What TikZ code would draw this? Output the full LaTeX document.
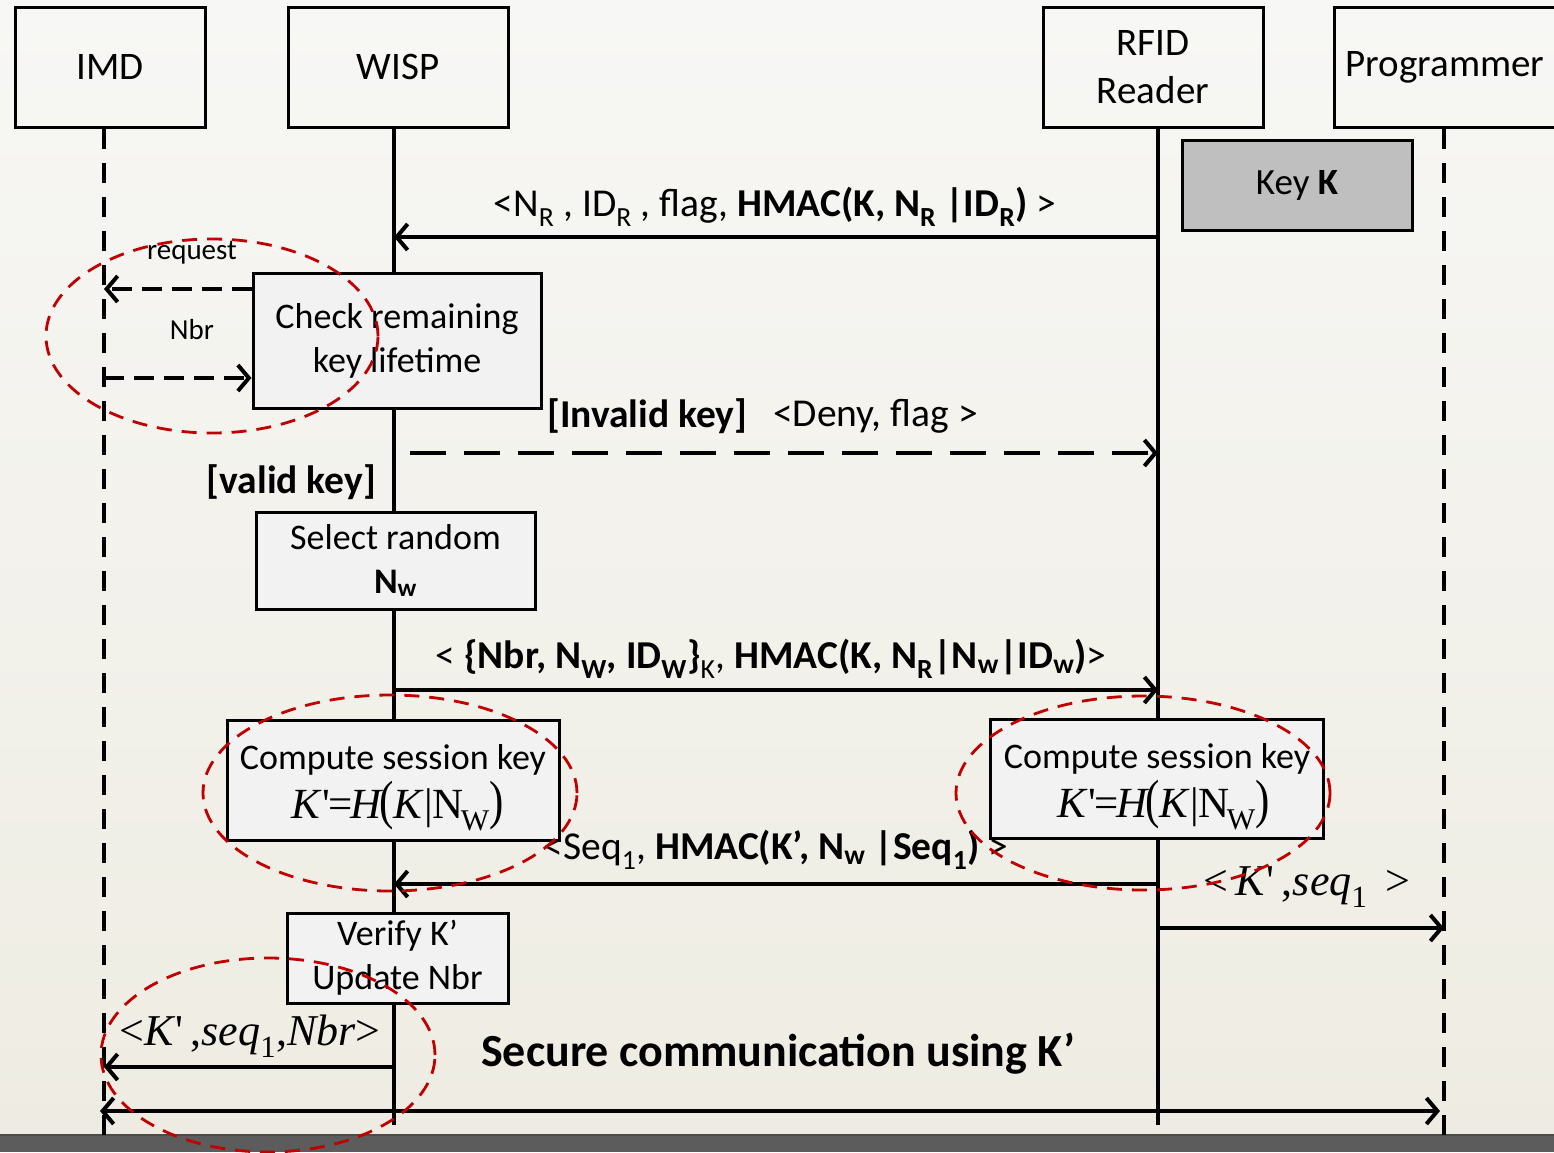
\documentclass[tikz,border=0pt]{standalone}
\usepackage{graphicx}
\usepackage{fontspec}
\setmainfont{Carlito}
\newfontfamily\tms{Liberation Serif}
\usetikzlibrary{arrows.meta}

\definecolor{papertop}{HTML}{F7F7F5}
\definecolor{paperlow}{HTML}{EEECE2}
\definecolor{boxfill}{HTML}{F2F2F2}
\definecolor{keyfill}{HTML}{BFBFBF}
\definecolor{ringred}{HTML}{C00000}
\definecolor{floorgray}{HTML}{5C5C5C}

% session key formula, set in a Times-like face
\newcommand\sessionkey{{\tms\fontsize{43}{43}\selectfont
  \textit{K}'\kern-2pt=\kern-2pt\textit{H}\kern-4pt\scalebox{1}[1.25]{(}\textit{K}|N\kern-3pt\textsubscript{W}\scalebox{1}[1.25]{)}}}

\tikzset{
  head/.style={draw=black, line width=3pt, align=center, inner sep=0pt,
    font=\fontsize{39}{48}\selectfont},
  actbox/.style={draw=black, line width=3pt, fill=boxfill, align=center, inner sep=0pt,
    font=\fontsize{36}{44}\selectfont},
  keybox/.style={actbox, fill=keyfill, font=\fontsize{37}{44}\selectfont},
  boxtext/.style={inner sep=0pt, font=\fontsize{36}{44}\selectfont},
  life/.style={line width=4pt},
  lifedash/.style={line width=4.5pt, dash pattern=on 20pt off 14pt},
  msg/.style={line width=4pt, -{Straight Barb[length=11pt,width=26pt]}},
  shortdash/.style={msg, dash pattern=on 20pt off 10pt},
  longdash/.style={msg, dash pattern=on 36pt off 18pt},
  ring/.style={draw=ringred, line width=2.8pt, dash pattern=on 15pt off 10pt},
  lbl/.style={inner sep=0pt, font=\fontsize{39.5}{46}\selectfont},
  small/.style={inner sep=0pt, font=\fontsize{29}{34}\selectfont},
  formula/.style={inner sep=0pt}
}

\begin{document}
\begin{tikzpicture}[x=1pt,y=-1pt]
\useasboundingbox (0,0) rectangle (1554,1152);
\clip (0,0) rectangle (1554,1152);

% backdrop and floor strip
\shade[top color=papertop, bottom color=paperlow] (0,0) rectangle (1554,1135);
\fill[floorgray] (0,1135) rectangle (1554,1152);
\draw[line width=1.5pt, black!70] (0,1135) -- (1554,1135);

% participants
\node[head, minimum width=190pt, minimum height=120pt] (imd) at (110,67) {IMD};
\node[head, minimum width=220pt, minimum height=120pt] (wisp) at (398,67) {WISP};
\node[head, minimum width=220pt, minimum height=120pt] (rfid) at (1153,67) {RFID\\Reader};
\node[head, minimum width=247pt, minimum height=120pt, anchor=west, align=left,
      text width=225pt, inner xsep=11pt] (prog) at (1333,67) {Programmer};

% lifeline ends
\coordinate (imdT) at (104,129);   \coordinate (imdB) at (104,1135);
\coordinate (wispT) at (394,129);  \coordinate (wispB) at (394,1125);
\coordinate (rfidT) at (1158,129); \coordinate (rfidB) at (1158,1125);
\coordinate (progT) at (1444,129); \coordinate (progB) at (1444,1135);

\draw[lifedash] (imdT) -- (imdB);
\draw[life] (wispT) -- (wispB);
\draw[life] (rfidT) -- (rfidB);
\draw[lifedash] (progT) -- (progB);

% key held by the reader
\node[keybox, minimum width=230pt, minimum height=90pt] (key) at (1297,185) {Key \textbf{K}};

% 1: reader challenge
\coordinate (m1r) at (1158,237); \coordinate (m1l) at (394,237);
\draw[msg] (m1r) -- (m1l);
\node[lbl] (m1t) at (775,207) {<N\textsubscript{R} , ID\textsubscript{R} , flag, \textbf{HMAC(K, N\textsubscript{R} |ID\textsubscript{R})} >};

% key lifetime check
\node[actbox, minimum width=288pt, minimum height=135pt] (check) at (397,340.5) {Check remaining\\key lifetime};
\coordinate (reqL) at (104,289);
\coordinate (nbrL) at (104,378);
\draw[shortdash] (check.west |- reqL) -- (reqL);
\draw[shortdash] (nbrL) -- (check.west |- nbrL);
\node[small] (reqt) at (192,253) {request};
\node[small] (nbrt) at (192,330) {Nbr};

% invalid branch
\node[lbl, anchor=west] (inv) at (547,416) {\textbf{[Invalid key]}};
\node[lbl, anchor=west] (deny) at (773,416) {<Deny, flag >};
\coordinate (dnyL) at (410,453); \coordinate (dnyR) at (1158,453);
\draw[longdash] (dnyL) -- (dnyR);

% valid branch
\node[lbl, anchor=east] (valid) at (376,482) {\textbf{[valid key]}};
\node[actbox, minimum width=279pt, minimum height=97pt] (sel) at (395.5,560.5) {Select random\\\textbf{N\textsubscript{w}}};

% 2: WISP response
\coordinate (m3l) at (394,690); \coordinate (m3r) at (1158,690);
\draw[msg] (m3l) -- (m3r);
\node[lbl] (m3t) at (771,659) {< \textbf{\{Nbr, N\textsubscript{W}, ID\textsubscript{W}\}}\textsubscript{K}, \textbf{HMAC(K, N\textsubscript{R}|N\textsubscript{w}|ID\textsubscript{w})}>};

% session key on both sides
\node[actbox, minimum width=332pt, minimum height=120pt] (ckw) at (393,780) {};
\node[boxtext] (ckwa) at (393,760) {Compute session key};
\node[formula] (ckwb) at (398,806) {\sessionkey};
\node[actbox, minimum width=333pt, minimum height=119pt] (ckr) at (1156.5,778.5) {};
\node[boxtext] (ckra) at (1157,759) {Compute session key};
\node[formula] (ckrb) at (1164,805) {\sessionkey};

% 3: reader confirmation
\coordinate (m4r) at (1158,884); \coordinate (m4l) at (394,884);
\draw[msg] (m4r) -- (m4l);
\node[lbl] (m4t) at (776,850) {<Seq\textsubscript{1}, \textbf{HMAC(K’, N\textsubscript{w} |Seq\textsubscript{1})} >};

% reader to programmer
\node[formula] (m5t) at (1307,887) {\tms\fontsize{44}{44}\selectfont <\,\textit{K}'\,,\textit{seq}\textsubscript{1}\, >};
\coordinate (m5l) at (1158,928); \coordinate (m5r) at (1444,928);
\draw[msg] (m5l) -- (m5r);

% verification on the WISP
\node[actbox, minimum width=221pt, minimum height=90pt] (ver) at (397.5,958) {Verify K’\\Update Nbr};

% WISP to IMD
\node[formula] (m6t) at (250,1036) {\tms\fontsize{44}{44}\selectfont <\textit{K}'\,,\textit{seq}\textsubscript{1},\textit{Nbr}>};
\coordinate (m6r) at (394,1067); \coordinate (m6l) at (104,1067);
\draw[msg] (m6r) -- (m6l);

% secure channel
\node[inner sep=0pt, anchor=west, font=\fontsize{46}{52}\selectfont\bfseries] (sec) at (481,1054) {Secure communication using K’};
\coordinate (scL) at (100,1111); \coordinate (scR) at (1440,1111);
\draw[msg, {Straight Barb[length=11pt,width=26pt]}-{Straight Barb[length=11pt,width=26pt]}] (scL) -- (scR);

% highlighted regions
\draw[ring] (212,336) ellipse [x radius=166pt, y radius=97pt];
\draw[ring] (390,793) ellipse [x radius=187pt, y radius=98pt];
\draw[ring] (1143,793) ellipse [x radius=187pt, y radius=97pt];
\draw[ring] (268,1055) ellipse [x radius=167pt, y radius=97pt];
\end{tikzpicture}
\end{document}
